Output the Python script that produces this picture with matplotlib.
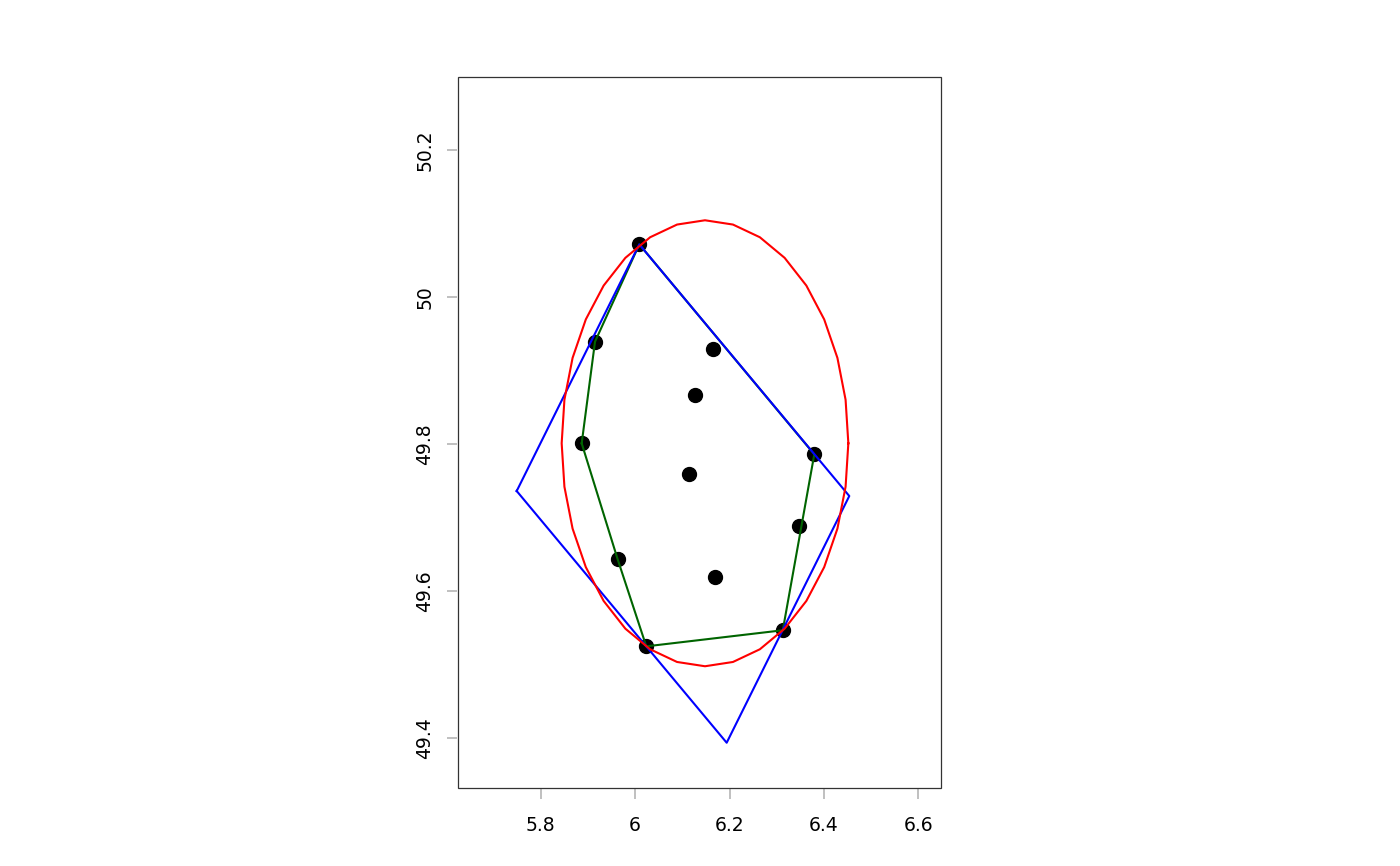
import numpy as np
import matplotlib
matplotlib.use("Agg")
import matplotlib.pyplot as plt
from matplotlib.patches import Rectangle

# ---- data (lon / lat) ----
pt_x = [6.0090, 5.9152, 5.8870, 5.9632, 6.0238, 6.3128,
        6.3477, 6.3795, 6.1657, 6.1275, 6.1142, 6.1686]
pt_y = [50.0716, 49.9391, 49.8008, 49.6429, 49.5245, 49.5464,
        49.6878, 49.7858, 49.9291, 49.8665, 49.7586, 49.6192]

# minimum-area rectangle corners
rect_x = [5.7494, 6.0090, 6.4536, 6.1940]
rect_y = [49.7359, 50.0716, 49.7291, 49.3933]

# minimum enclosing circle (in degree space), drawn as 32-gon
circ_cx = 6.1481
circ_cy = 49.8009
circ_r = 0.3035
circ_n = 32

xticks = [5.8, 6.0, 6.2, 6.4, 6.6]
xtick_labels = ["5.8", "6", "6.2", "6.4", "6.6"]
yticks = [49.4, 49.6, 49.8, 50.0, 50.2]
ytick_labels = ["49.4", "49.6", "49.8", "50", "50.2"]
xlim = (5.6251, 6.6478)
ylim = (49.3317, 50.2994)


def convex_hull(xs, ys):
    pts = sorted(zip(xs, ys))

    def cross(o, a, b):
        return (a[0] - o[0]) * (b[1] - o[1]) - (a[1] - o[1]) * (b[0] - o[0])

    lower, upper = [], []
    for p in pts:
        while len(lower) >= 2 and cross(lower[-2], lower[-1], p) <= 0:
            lower.pop()
        lower.append(p)
    for p in reversed(pts):
        while len(upper) >= 2 and cross(upper[-2], upper[-1], p) <= 0:
            upper.pop()
        upper.append(p)
    hull = lower[:-1] + upper[:-1]
    hull.append(hull[0])
    return [h[0] for h in hull], [h[1] for h in hull]


fig = plt.figure(figsize=(14, 8.66), dpi=100)
ax = fig.add_axes([458 / 1400, 1 - 788 / 866, (941 - 458) / 1400, (788 - 77) / 866])

# points
ax.plot(pt_x, pt_y, "o", color="black", ms=10, zorder=2)

# convex hull
hx, hy = convex_hull(pt_x, pt_y)
ax.plot(hx, hy, color="#006400", lw=1.5, zorder=3)

# rectangle
ax.plot(rect_x + rect_x[:1], rect_y + rect_y[:1], color="#0000FF", lw=1.5, zorder=4)

# circle
ang = np.linspace(0, 2 * np.pi, circ_n + 1)
ax.plot(circ_cx + circ_r * np.cos(ang), circ_cy + circ_r * np.sin(ang),
        color="#FF0000", lw=1.5, zorder=5)

ax.set_xlim(*xlim)
ax.set_ylim(*ylim)
ax.set_xticks(xticks)
ax.set_xticklabels(xtick_labels)
ax.set_yticks(yticks)
ax.set_yticklabels(ytick_labels)

for side in ["left", "bottom"]:
    ax.spines[side].set_position(("outward", 1.0))
for s in ax.spines.values():
    s.set_visible(False)
ax.add_patch(Rectangle((0, 0), 1, 1, transform=ax.transAxes, fill=False,
                       edgecolor="#333333", lw=0.9, zorder=10, clip_on=False))

ax.tick_params(axis="both", direction="out", length=7.5, width=1.4,
               color="#C0C0C0", labelsize=13.5, labelcolor="black")
ax.tick_params(axis="x", pad=12)
ax.tick_params(axis="y", pad=8.5)
for lab in ax.get_yticklabels():
    lab.set_rotation(90)
    lab.set_va("center")
    lab.set_ha("right")

fig.savefig("out.png", dpi=100, facecolor="white")
